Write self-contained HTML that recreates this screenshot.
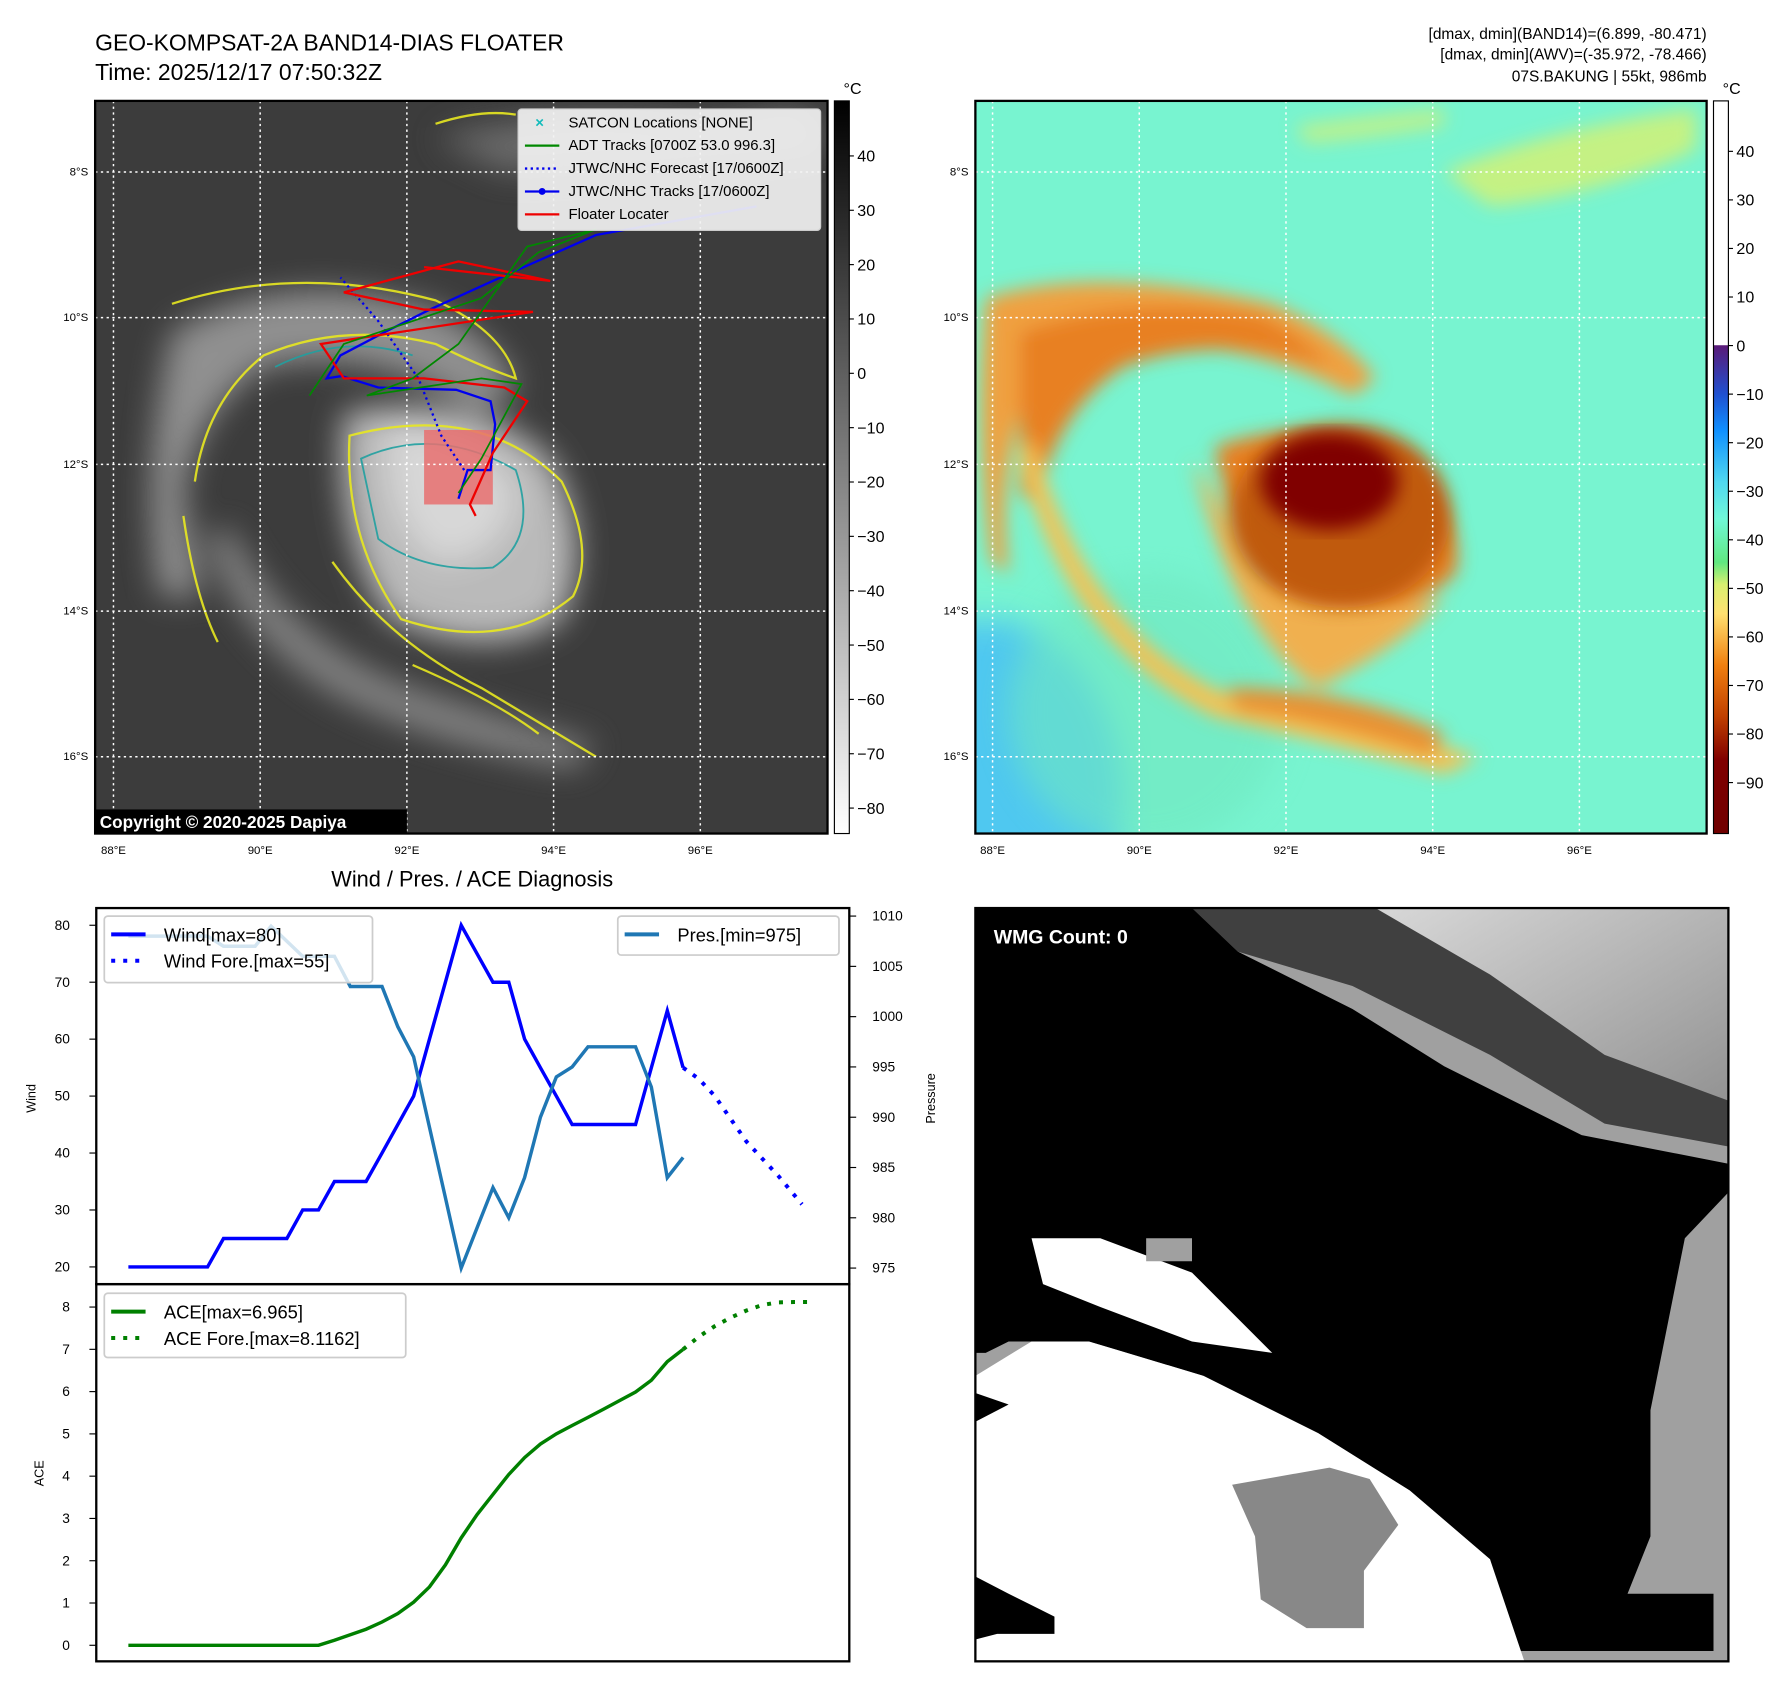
<!DOCTYPE html>
<html><head><meta charset="utf-8"><style>
html,body{margin:0;padding:0;background:#fff}
svg{display:block}
text{font-family:"Liberation Sans","DejaVu Sans",sans-serif}
</style></head><body>
<svg id="root" width="1788" height="1690" viewBox="0 0 1560 1474" preserveAspectRatio="none" xmlns="http://www.w3.org/2000/svg">
<defs>
<linearGradient id="gcb" x1="0" y1="0" x2="0" y2="1"><stop offset="0" stop-color="#000"/><stop offset="1" stop-color="#fff"/></linearGradient>
<linearGradient id="ccb" x1="0" y1="0" x2="0" y2="1">
<stop offset="0" stop-color="#fff"/><stop offset="0.333" stop-color="#fff"/><stop offset="0.334" stop-color="#5a1a78"/>
<stop offset="0.4" stop-color="#2050d0"/><stop offset="0.45" stop-color="#1090ff"/><stop offset="0.52" stop-color="#50d8f0"/>
<stop offset="0.57" stop-color="#70f8d8"/><stop offset="0.63" stop-color="#60e880"/><stop offset="0.66" stop-color="#d8f070"/>
<stop offset="0.7" stop-color="#ffe070"/><stop offset="0.77" stop-color="#f08010"/><stop offset="0.84" stop-color="#c04000"/>
<stop offset="0.9" stop-color="#800000"/><stop offset="1" stop-color="#700000"/></linearGradient>
<linearGradient id="ul" x1="0" y1="0" x2="1" y2="1"><stop offset="0" stop-color="#d8d8d8"/><stop offset="1" stop-color="#909090"/></linearGradient>
<filter id="b8"><feGaussianBlur stdDeviation="8"/></filter>
<filter id="b4"><feGaussianBlur stdDeviation="4"/></filter>
<filter id="b14"><feGaussianBlur stdDeviation="14"/></filter>
<clipPath id="cl"><rect x="83" y="88" width="639" height="639"/></clipPath>
<clipPath id="cr"><rect x="851" y="88" width="638" height="639"/></clipPath>
<clipPath id="cw"><rect x="851" y="792" width="657" height="657"/></clipPath>
</defs>

<text x="83" y="44" font-size="20">GEO-KOMPSAT-2A BAND14-DIAS FLOATER</text>
<text x="83" y="70" font-size="20">Time: 2025/12/17 07:50:32Z</text>
<g font-size="13.5" text-anchor="end">
<text x="1489" y="34">[dmax, dmin](BAND14)=(6.899, -80.471)</text>
<text x="1489" y="52">[dmax, dmin](AWV)=(-35.972, -78.466)</text>
<text x="1489" y="71">07S.BAKUNG | 55kt, 986mb</text></g>

<!-- Left map -->
<g clip-path="url(#cl)">
<rect x="83" y="88" width="639" height="639" fill="#3c3c3c"/>
<g filter="url(#b14)" opacity="0.9">
<path d="M150 290 Q250 230 380 270 Q440 300 450 340 L420 360 Q330 300 230 320 Q170 360 160 430 L175 520 L140 520 Q120 420 150 290Z" fill="#9a9a9a"/>
<path d="M300 360 Q420 340 480 400 Q520 470 490 540 Q430 580 340 540 Q290 470 300 360Z" fill="#c8c8c8"/>
<path d="M340 370 Q420 380 450 430 Q440 490 380 490 Q330 450 340 370Z" fill="#e8e8e8"/>
<path d="M200 460 Q250 560 360 600 Q450 630 520 650 L500 670 Q380 650 300 610 Q210 560 180 470Z" fill="#8a8a8a"/>
<path d="M380 120 Q500 90 620 110 L700 95 L720 130 Q600 140 440 150Z" fill="#707070"/>
</g>
<g fill="none" stroke="#e8e820" stroke-width="2" opacity="0.9">
<path d="M150 265 Q260 230 380 262 Q440 290 450 330 Q420 320 380 300 Q300 280 230 310 Q180 350 170 420"/>
<path d="M305 380 Q420 350 490 420 Q520 480 500 520 Q440 570 350 540 Q300 470 305 380Z"/>
<path d="M290 490 Q340 560 420 600 Q470 630 520 660"/>
<path d="M360 580 Q430 610 470 640"/>
<path d="M160 450 Q170 520 190 560"/>
<path d="M380 108 Q420 95 450 100"/>
</g>
<g fill="none" stroke="#20a0a0" stroke-width="1.6" opacity="0.9">
<path d="M315 400 Q380 370 450 410 Q470 470 430 495 Q370 500 330 470Z"/>
<path d="M240 320 Q300 290 360 310"/>
</g>
<rect x="370" y="375" width="60" height="65" fill="#e87070" opacity="0.85"/>
<g stroke="#fff" stroke-width="1.3" stroke-dasharray="2,3" fill="none">
<path d="M99 88V727M227 88V727M355 88V727M483 88V727M611 88V727"/>
<path d="M83 150H722M83 277H722M83 405H722M83 533H722M83 660H722"/></g>
<g fill="none" stroke-width="2">
<polyline points="660,180 520,205 430,245 375,270 335,290 297,310 285,330 298,328 330,338 398,340 428,350 432,370 428,410 408,410 400,435" stroke="#0000ee"/>
<polyline points="405,410 385,380 365,330 330,280 297,242" stroke="#0000ee" stroke-dasharray="2,3"/>
<polyline points="370,233 480,245 400,228 300,255 370,270 465,272 280,300 300,330 370,330 440,338 460,350 430,395 410,440 415,450" stroke="#ee0000"/>
<polyline points="270,345 300,300 360,280 420,260 470,220 520,200 460,215 400,300 360,330 320,345 420,330 455,335 420,400 400,430" stroke="#008800" stroke-width="1.5"/>
</g>
<rect x="83" y="706" width="272" height="21" fill="#000"/>
<text x="87" y="722" font-size="15" font-weight="bold" fill="#fff">Copyright © 2020-2025 Dapiya</text>
</g>
<rect x="83" y="88" width="639" height="639" fill="none" stroke="#000" stroke-width="2"/>
<g>
<rect x="452" y="95" width="264" height="106" rx="3" fill="#f2f2f2" fill-opacity="0.92" stroke="#ccc"/>
<g font-size="13">
<text x="467" y="111" fill="#11bbbb" font-weight="bold">×</text><text x="496" y="111">SATCON Locations [NONE]</text>
<line x1="458" y1="127" x2="488" y2="127" stroke="#008800" stroke-width="2"/><text x="496" y="131">ADT Tracks [0700Z 53.0 996.3]</text>
<line x1="458" y1="147" x2="488" y2="147" stroke="#0000ee" stroke-width="2" stroke-dasharray="2,3"/><text x="496" y="151">JTWC/NHC Forecast [17/0600Z]</text>
<line x1="458" y1="167" x2="488" y2="167" stroke="#0000ee" stroke-width="2"/><circle cx="473" cy="167" r="3" fill="#0000ee"/><text x="496" y="171">JTWC/NHC Tracks [17/0600Z]</text>
<line x1="458" y1="187" x2="488" y2="187" stroke="#ee0000" stroke-width="2"/><text x="496" y="191">Floater Locater</text></g></g>

<g>
<rect x="728" y="88" width="13" height="639" fill="url(#gcb)" stroke="#000"/>
<text x="736" y="82" font-size="14">°C</text>
<g font-size="14" id="lcbt"></g></g>

<!-- Right map -->
<g clip-path="url(#cr)">
<rect x="851" y="88" width="638" height="639" fill="#78f4d0"/>
<ellipse cx="860" cy="700" rx="120" ry="160" fill="#50c8f0" filter="url(#b14)"/>
<ellipse cx="1000" cy="620" rx="120" ry="120" fill="#70e8c0" filter="url(#b14)" opacity="0.6"/>
<g filter="url(#b8)">
<path d="M860 260 Q960 230 1110 265 Q1170 290 1200 330 L1180 345 Q1100 300 1000 300 Q930 310 890 360 Q870 420 880 500 L865 490 Q850 380 860 260Z" fill="#f0a040"/>
<path d="M890 290 Q990 255 1100 275 Q1140 295 1160 320 Q1060 290 980 320 Q920 360 905 440 L890 430Z" fill="#e88020"/>
<path d="M900 380 Q950 560 1080 610 Q1180 630 1290 660 L1260 675 Q1150 645 1060 625 Q930 560 890 400Z" fill="#f8c050"/>
<path d="M1060 390 Q1140 360 1230 400 Q1280 460 1270 500 Q1230 540 1150 530 Q1080 500 1060 390Z" fill="#e88020"/>
<path d="M1040 400 Q1080 560 1150 600 Q1230 560 1260 520 Q1180 540 1100 500Z" fill="#f0b050"/>
<path d="M1070 600 Q1180 600 1260 640 L1250 660 Q1160 630 1080 620Z" fill="#e89030"/>
<path d="M1260 150 Q1360 110 1480 95 L1480 130 Q1400 170 1300 180Z" fill="#d8f070" opacity="0.8"/>
<path d="M1130 110 Q1200 100 1260 95 L1260 110 Q1200 120 1140 125Z" fill="#d8f070" opacity="0.7"/>
</g>
<ellipse cx="1170" cy="450" rx="95" ry="80" fill="#c05a10" filter="url(#b8)"/>
<ellipse cx="1160" cy="420" rx="60" ry="42" fill="#800000" filter="url(#b8)"/>
<g stroke="#fff" stroke-width="1.3" stroke-dasharray="2,3" fill="none">
<path d="M866 88V727M994 88V727M1122 88V727M1250 88V727M1378 88V727"/>
<path d="M851 150H1489M851 277H1489M851 405H1489M851 533H1489M851 660H1489"/></g>
</g>
<rect x="851" y="88" width="638" height="639" fill="none" stroke="#000" stroke-width="2"/>
<g>
<rect x="1495" y="88" width="13" height="639" fill="url(#ccb)" stroke="#000"/>
<text x="1503" y="82" font-size="14">°C</text>
<g font-size="14" id="rcbt"></g></g>

<g id="maplabels" font-size="10"></g>

<text x="412" y="773" font-size="19" text-anchor="middle">Wind / Pres. / ACE Diagnosis</text>
<g id="chart"></g>

<!-- WMG panel -->
<g clip-path="url(#cw)">
<rect x="851" y="792" width="657" height="657" fill="#a0a0a0"/>
<polygon points="1200,792 1508,792 1508,975 1400,960 1340,900" fill="url(#ul)"/>
<polygon points="1040,792 1200,792 1300,850 1400,920 1508,960 1508,1000 1400,980 1300,920 1180,860 1080,830" fill="#404040"/>
<polygon points="851,792 1040,792 1080,830 1180,880 1260,930 1380,990 1508,1015 1508,1040 1470,1080 1440,1230 1440,1340 1420,1390 1495,1390 1495,1440 1320,1440 1300,1360 1230,1300 1150,1250 1050,1200 950,1170 880,1170 860,1180 851,1180" fill="#000"/>
<polygon points="851,1200 900,1170 950,1170 1050,1200 1150,1250 1230,1300 1300,1360 1330,1449 851,1449" fill="#fff"/>
<polygon points="851,1240 880,1225 851,1215" fill="#000"/>
<polygon points="900,1080 960,1080 1040,1110 1080,1150 1110,1180 1040,1170 960,1140 910,1120" fill="#fff"/>
<polygon points="1000,1080 1040,1080 1040,1100 1000,1100" fill="#a0a0a0"/>
<polygon points="1075,1295 1160,1280 1195,1290 1220,1330 1190,1370 1190,1420 1140,1420 1100,1395 1095,1340" fill="#888"/>
<polygon points="851,1375 880,1390 920,1410 920,1425 870,1425 851,1430" fill="#000"/>
</g>
<rect x="851" y="792" width="657" height="657" fill="none" stroke="#000" stroke-width="2"/>
<rect x="860" y="803" width="158" height="28" rx="3" fill="#000"/>
<text x="867" y="823" font-size="17" font-weight="bold" fill="#fff">WMG Count: 0</text>
</svg>
<script>
const windIdx=[0,1,2,3,4,5,6,7,8,9,10,11,12,13,14,15,16,17,18,19,20,21,22,23,24,25,26,27,28,29,30,31,32,33,34,35];
const windVals=[20,20,20,20,20,20,25,25,25,25,25,30,30,35,35,35,40,45,50,60,70,80,75,70,70,60,55,50,45,45,45,45,45,55,65,55];
const presVals=[1008,1008,1008,1008,1008,1008,1007,1007,1007,1009,1007.5,1006,1006,1006,1003,1003,1003,999,996,989,982,975,979,983,980,984,990,994,995,997,997,997,997,993,984,986];
const windForeIdx=[35,36,37,38,39,40,41,42.5];
const windForeVals=[55,53,50,46,42,39,36,31];
const aceVals=[0,0,0,0,0,0,0,0,0,0,0,0,0,0.12,0.25,0.38,0.55,0.75,1.02,1.38,1.9,2.54,3.09,3.57,4.04,4.44,4.76,5.0,5.2,5.39,5.59,5.79,5.99,6.27,6.71,7.0];
const aceForeIdx=[35,36,37,38,39,40,41,42,43];
const aceForeVals=[7.0,7.3,7.55,7.75,7.92,8.05,8.11,8.12,8.12];
const windTicks=[20,30,40,50,60,70,80];
const presTicks=[975,980,985,990,995,1000,1005,1010];
const aceTicks=[0,1,2,3,4,5,6,7,8];
const irTicks=[40,30,20,10,0,-10,-20,-30,-40,-50,-60,-70,-80];
const awvTicks=[40,30,20,10,0,-10,-20,-30,-40,-50,-60,-70,-80,-90];
const latLabels=['8°S','10°S','12°S','14°S','16°S'];
const lonLabels=['88°E','90°E','92°E','94°E','96°E'];

const NS='http://www.w3.org/2000/svg';
function mk(tag,attrs,parent){const e=document.createElementNS(NS,tag);for(const k in attrs)e.setAttribute(k,attrs[k]);parent.appendChild(e);return e;}
const xS=i=>112+i*(484/35);
const wY=v=>1105-(v-20)*(298/60);
const pY=v=>1106-(v-975)*(307/35);
const aY=v=>1435-v*(295/8);
const ch=document.getElementById('chart');
let f=mk('rect',{x:84,y:792,width:657,height:328,fill:'none',stroke:'#000','stroke-width':2},ch);


f=mk('rect',{x:84,y:1120,width:657,height:329,fill:'none',stroke:'#000','stroke-width':2},ch);


windTicks.forEach(v=>{const y=wY(v);mk('line',{x1:78,y1:y,x2:84,y2:y,stroke:'#000'},ch);const t=mk('text',{x:61,y:y+4,'font-size':12,'text-anchor':'end'},ch);t.textContent=v;

});
presTicks.forEach(v=>{const y=pY(v);mk('line',{x1:741,y1:y,x2:747,y2:y,stroke:'#000'},ch);const t=mk('text',{x:761,y:y+4,'font-size':12},ch);t.textContent=v;

});
aceTicks.forEach(v=>{const y=aY(v);mk('line',{x1:78,y1:y,x2:84,y2:y,stroke:'#000'},ch);const t=mk('text',{x:61,y:y+4,'font-size':12,'text-anchor':'end'},ch);t.textContent=v;

});
let t=mk('text',{x:31,y:958,'font-size':11,transform:'rotate(-90 31 958)','text-anchor':'middle'},ch);t.textContent='Wind';


t=mk('text',{x:816,y:958,'font-size':11,transform:'rotate(-90 816 958)','text-anchor':'middle'},ch);t.textContent='Pressure';


t=mk('text',{x:38,y:1285,'font-size':11,transform:'rotate(-90 38 1285)','text-anchor':'middle'},ch);t.textContent='ACE';


function line(xs,ys,fx,fy,attrs,name){const p=xs.map((x,k)=>fx(x).toFixed(1)+','+fy(ys[k]).toFixed(1)).join(' ');const e=mk('polyline',Object.assign({points:p,fill:'none'},attrs),ch);

return e;}
line(windIdx,windVals,xS,wY,{stroke:'#0000ff','stroke-width':3},'wind-line');
line(windForeIdx,windForeVals,xS,wY,{stroke:'#0000ff','stroke-width':3.5,'stroke-dasharray':'3.5,7'},'wind-forecast-line');
line(windIdx,presVals,xS,pY,{stroke:'#1f77b4','stroke-width':3},'pressure-line');
line(windIdx,aceVals,xS,aY,{stroke:'#008000','stroke-width':3},'ace-line');
line(aceForeIdx,aceForeVals,xS,aY,{stroke:'#008000','stroke-width':3.5,'stroke-dasharray':'3.5,7'},'ace-forecast-line');
function legend(x,y,w,h,items,name){const g=mk('g',{},ch);


mk('rect',{x:x,y:y,width:w,height:h,rx:3,fill:'#fff','fill-opacity':0.8,stroke:'#ccc','stroke-width':1.5},g);
items.forEach((it,k)=>{const yy=y+16+k*23;mk('line',{x1:x+6,y1:yy,x2:x+36,y2:yy,stroke:it[1],'stroke-width':3.5,'stroke-dasharray':it[2]?'3.5,7':'none'},g);const tt=mk('text',{x:x+52,y:yy+6,'font-size':16},g);tt.textContent=it[0];});}
legend(91,799,234,58,[['Wind[max=80]','#0000ff',0],['Wind Fore.[max=55]','#0000ff',1]],'wind-legend');
legend(539,799,193,34,[['Pres.[min=975]','#1f77b4',0]],'pres-legend');
legend(91,1128,263,56,[['ACE[max=6.965]','#008000',0],['ACE Fore.[max=8.1162]','#008000',1]],'ace-legend');
const lc=document.getElementById('lcbt');
irTicks.forEach((v,k)=>{const y=136+k*47.4;mk('line',{x1:741,y1:y,x2:745,y2:y,stroke:'#000'},lc);const e=mk('text',{x:748,y:y+5},lc);e.textContent=v<0?'\u2212'+(-v):v;});
const rc=document.getElementById('rcbt');
awvTicks.forEach((v,k)=>{const y=132+k*42.35;mk('line',{x1:1508,y1:y,x2:1512,y2:y,stroke:'#000'},rc);const e=mk('text',{x:1515,y:y+5},rc);e.textContent=v<0?'\u2212'+(-v):v;});
const ml=document.getElementById('maplabels');
[[83,99],[851,866]].forEach(([lx,x0])=>{
latLabels.forEach((s,k)=>{const e=mk('text',{x:lx-6,y:[150,277,405,533,660][k]+3,'text-anchor':'end'},ml);e.textContent=s;});
lonLabels.forEach((s,k)=>{const e=mk('text',{x:x0+k*128,y:745,'text-anchor':'middle'},ml);e.textContent=s;});});
</script>
</body></html>
